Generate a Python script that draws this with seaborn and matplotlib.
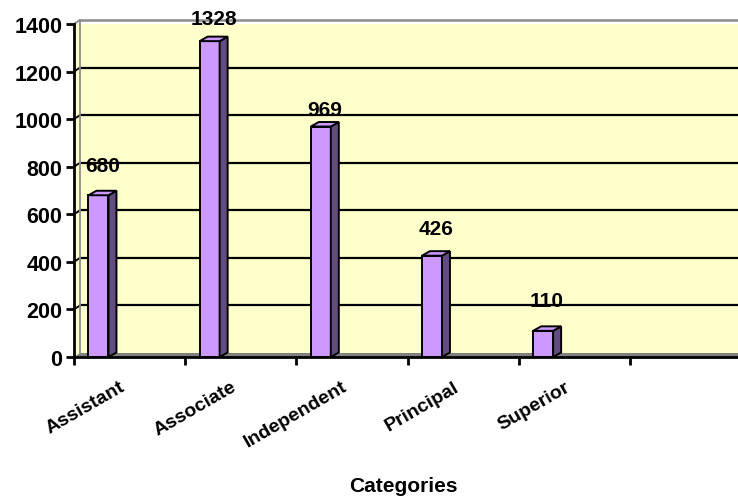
import matplotlib
matplotlib.use("Agg")
import matplotlib.pyplot as plt
from matplotlib.patches import Polygon
import seaborn as sns
import pandas as pd

categories = ["Assistant", "Associate", "Independent", "Principal", "Superior"]
values = [680, 1328, 969, 426, 110]
y_ticks = [0, 200, 400, 600, 800, 1000, 1200, 1400]
x_title = "Categories"

# gap (px) between each value label and the top of its column
label_gap_px = [24, 17, 12, 22, 25]

sns.set_theme(style="white")
plt.rcParams["font.family"] = ["Liberation Sans", "DejaVu Sans"]
plt.rcParams["font.weight"] = "bold"
plt.rcParams["text.color"] = "black"
plt.rcParams["axes.labelcolor"] = "black"
plt.rcParams["xtick.labelcolor"] = "black"
plt.rcParams["ytick.labelcolor"] = "black"

FRONT = "#CC99FF"
SIDE = "#634C80"
WALL = "#FFFFCC"
FLOOR = "#808080"
EDGE = "#8C8C8C"

W, H = 738, 502
fig = plt.figure(figsize=(W / 100, H / 100), dpi=100)
left_px, right_px, top_px, bottom_px = 74, 741, 25, 358
ax = fig.add_axes([left_px / W, 1 - bottom_px / H,
                   (right_px - left_px) / W, (bottom_px - top_px) / H])
ax.set_facecolor(WALL)

df = pd.DataFrame({"category": categories, "value": values})
sns.barplot(data=df, x="category", y="value", color=FRONT, saturation=1,
            edgecolor="black", linewidth=1.4, width=0.18, ax=ax, zorder=3)

n_slots = 6
x0 = -0.22
x1 = x0 + n_slots
ymax = 1400
ax.set_xlim(x0, x1)
ax.set_ylim(0, ymax)

# pixel -> data conversions for the pseudo-3D depth
px_x = (x1 - x0) / (right_px - left_px)
px_y = ymax / (bottom_px - top_px)
wall_dx, wall_dy = 6 * px_x, 4 * px_y
bar_dx, bar_dy = 8 * px_x, 4.5 * px_y

# back wall gridlines with the short diagonal on the side wall
for t in y_ticks[1:-1]:
    ax.plot([x0 + wall_dx, x1], [t + wall_dy, t + wall_dy], color="black",
            lw=1.6, zorder=1)
    ax.plot([x0, x0 + wall_dx], [t, t + wall_dy], color="black", lw=1.4, zorder=1)

# floor band
ax.add_patch(Polygon([(x0, 0), (x1, 0), (x1, wall_dy), (x0 + wall_dx, wall_dy)],
                     closed=True, facecolor=FLOOR, edgecolor="none", zorder=2))
# wall outline
ax.plot([x0 + wall_dx, x0 + wall_dx], [wall_dy, ymax + wall_dy], color=EDGE,
        lw=1.3, zorder=2, clip_on=False)
ax.plot([x0 + wall_dx, x1], [ymax + wall_dy, ymax + wall_dy], color=EDGE,
        lw=1.8, zorder=2, clip_on=False)
ax.plot([x0, x0 + wall_dx], [ymax, ymax + wall_dy], color=EDGE,
        lw=1.4, zorder=2, clip_on=False)

# side and top faces for each column, plus value labels
for bar, v, gap in zip(ax.patches, values, label_gap_px):
    xl = bar.get_x()
    w = bar.get_width()
    xr = xl + w
    side = Polygon([(xr, 0), (xr + bar_dx, bar_dy), (xr + bar_dx, v + bar_dy), (xr, v)],
                   closed=True, facecolor=SIDE, edgecolor="black", lw=1.4, zorder=3)
    top = Polygon([(xl, v), (xr, v), (xr + bar_dx, v + bar_dy), (xl + bar_dx, v + bar_dy)],
                  closed=True, facecolor=FRONT, edgecolor="black", lw=1.4, zorder=3)
    ax.add_patch(side)
    ax.add_patch(top)
    ax.annotate(f"{v}", xy=(xl + w / 2 + bar_dx / 2, v), xytext=(0, gap * 0.72),
                textcoords="offset points", ha="center", va="baseline",
                fontsize=15, fontweight="bold", color="black",
                annotation_clip=False, zorder=5)

# spines
for s in ["top", "right"]:
    ax.spines[s].set_visible(False)
for s in ["left", "bottom"]:
    ax.spines[s].set_color("black")
    ax.spines[s].set_linewidth(2)
    ax.spines[s].set_zorder(4)

# y axis
ax.set_yticks(y_ticks)
ax.set_yticklabels([str(t) for t in y_ticks], fontsize=15.5, fontweight="bold",
                   color="black")
ax.tick_params(axis="y", direction="out", length=6, width=2, color="black", pad=2.5,
               left=True)
ax.set_ylabel("")

# x axis: tick marks at slot boundaries, category names between them
ax.set_xticks([x0 + i for i in range(n_slots)])
ax.set_xticklabels([""] * n_slots)
ax.tick_params(axis="x", direction="out", length=6, width=2, color="black",
               bottom=True)
ax.set_xticks([i + 0.19 for i in range(len(categories))], minor=True)
ax.set_xticklabels(categories, minor=True, rotation=30, ha="right",
                   rotation_mode="anchor", fontsize=14, fontweight="bold",
                   color="black")
ax.tick_params(axis="x", which="minor", length=0, pad=15)
ax.set_xlabel(x_title, fontsize=15, fontweight="bold", va="center", color="black")
ax.xaxis.set_label_coords((403 - left_px) / (right_px - left_px),
                          -(487 - bottom_px) / (bottom_px - top_px))

fig.savefig("out.png", dpi=100)
